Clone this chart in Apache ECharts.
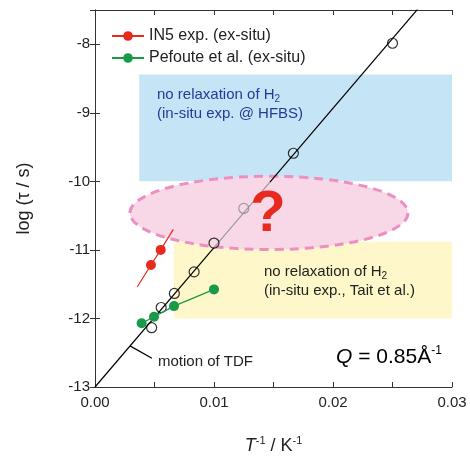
<!DOCTYPE html>
<html><head><meta charset="utf-8">
<script src="https://cdn.jsdelivr.net/npm/echarts@6/dist/echarts.min.js"></script>
<style>html,body{margin:0;padding:0;background:#fff}#c{width:470px;height:458px}</style>
</head><body><div id="c"></div>
<script>
// ---- tick labels ----
const xTicks = [0, 0.01, 0.02, 0.03];
const xTickLabels = ['0.00', '0.01', '0.02', '0.03'];
const yTicks = [-13, -12, -11, -10, -9, -8];
const yTickLabels = ['-13', '-12', '-11', '-10', '-9', '-8'];

// ---- TDF motion (open circles) ----
const tdfX = [0.025, 0.01667, 0.0100, 0.00833, 0.00667, 0.00556, 0.00476];
const tdfY = [-7.985, -9.59, -10.90, -11.32, -11.635, -11.84, -12.135];
const tdfGrayX = [0.0125];
const tdfGrayY = [-10.395];
// Arrhenius fit line pieces
const fitLowX = [0, 0.0100];
const fitLowY = [-13.0, -10.967];
const fitGrayX = [0.0100, 0.0147];
const fitGrayY = [-10.967, -10.01];
const fitHighX = [0.0147, 0.0271];
const fitHighY = [-10.01, -7.49];

// ---- IN5 exp. (ex-situ) ----
const in5X = [0.0047, 0.00552];
const in5Y = [-11.22, -11.0];
const in5FitX = [0.00356, 0.00658];
const in5FitY = [-11.538, -10.70];

// ---- Pefoute et al. (ex-situ) ----
const pefX = [0.00392, 0.00496, 0.00664, 0.0100];
const pefY = [-12.07, -11.975, -11.82, -11.576];

// ---- regions ----
const blueBoxX = [0.00372, 0.03];
const blueBoxY = [-10.0, -8.44];
const yellowBoxX = [0.00664, 0.03];
const yellowBoxY = [-12.0, -10.88];
const ellipseCenter = [0.01462, -10.46];
const ellipseRadius = [0.01168, 0.535];

const FONT = '"Liberation Sans", Arial, Helvetica, sans-serif';
const TXT = '#222';

function pts(xs, ys) { return xs.map((x, i) => [x, ys[i]]); }
function fmt(ticks, labels) {
  return v => { const i = ticks.findIndex(t => Math.abs(t - v) < 1e-9); return i >= 0 ? labels[i] : ''; };
}

const chart = echarts.init(document.getElementById('c'));

const axisCommon = {
  axisLine: { show: true, lineStyle: { color: '#333', width: 1 } },
  axisTick: { show: true, inside: true, length: 5, lineStyle: { color: '#333', width: 1 } },
  splitLine: { show: false }
};

const boxes = [
  { x: blueBoxX, y: blueBoxY, color: '#c5e5f6' },
  { x: yellowBoxX, y: yellowBoxY, color: '#fdf7c9' }
];

const in5Data = [
  { value: [in5FitX[0], in5FitY[0]], symbol: 'none' },
  ...pts(in5X, in5Y),
  { value: [in5FitX[1], in5FitY[1]], symbol: 'none' }
];

chart.setOption({
  animation: false,
  backgroundColor: '#fff',
  grid: { left: 95, right: 18, top: 10, bottom: 71, containLabel: false, outerBoundsMode: 'none' },
  xAxis: [
    Object.assign({
      type: 'value', position: 'bottom', min: 0, max: 0.03, interval: 0.005,
      axisLabel: { formatter: fmt(xTicks, xTickLabels), color: TXT, fontSize: 15, fontFamily: FONT, margin: 8, showMaxLabel: true },
      name: '{i|T}{sup|-1} / K{sup|-1}', nameLocation: 'middle', nameGap: 48,
      nameTextStyle: {
        color: TXT, fontSize: 18, fontFamily: FONT, lineHeight: 22,
        rich: {
          i: { fontStyle: 'italic', fontSize: 18, fontFamily: FONT, color: TXT, lineHeight: 22 },
          sup: { fontSize: 11, fontFamily: FONT, color: TXT, verticalAlign: 'top', lineHeight: 11 }
        }
      }
    }, axisCommon),
    Object.assign({
      type: 'value', position: 'top', min: 0, max: 0.03, interval: 0.005,
      axisLabel: { show: false }
    }, axisCommon)
  ],
  yAxis: [
    Object.assign({
      type: 'value', position: 'left', min: -13, max: -7.5, interval: 1,
      axisLabel: { formatter: fmt(yTicks, yTickLabels), color: TXT, fontSize: 15, fontFamily: FONT, margin: 5 },
      name: 'log (τ / s)', nameLocation: 'middle', nameGap: 62,
      nameTextStyle: { color: TXT, fontSize: 18, fontFamily: FONT }
    }, axisCommon),
    Object.assign({
      type: 'value', position: 'right', min: -13, max: -7.5, interval: 1,
      axisLabel: { show: false }
    }, axisCommon)
  ],
  legend: {
    orient: 'vertical', left: 106, top: 23, itemWidth: 32, itemHeight: 12, itemGap: 6,
    textStyle: { color: TXT, fontSize: 16, fontFamily: FONT },
    data: ['IN5 exp. (ex-situ)', 'Pefoute et al. (ex-situ)']
  },
  series: [
    {
      type: 'custom', name: 'regions', z: 1, silent: true,
      data: boxes.map((b, i) => [b.x[0], b.y[0], b.x[1], b.y[1], i]),
      renderItem: (params, api) => {
        const p0 = api.coord([api.value(0), api.value(1)]);
        const p1 = api.coord([api.value(2), api.value(3)]);
        return {
          type: 'rect',
          shape: { x: Math.min(p0[0], p1[0]), y: Math.min(p0[1], p1[1]), width: Math.abs(p1[0] - p0[0]), height: Math.abs(p1[1] - p0[1]) },
          style: { fill: boxes[api.value(4)].color }
        };
      }
    },
    {
      type: 'custom', name: 'ellipse', z: 2, silent: true,
      data: [[ellipseCenter[0], ellipseCenter[1], ellipseRadius[0], ellipseRadius[1]]],
      renderItem: (params, api) => {
        const c = api.coord([api.value(0), api.value(1)]);
        const s = api.size([api.value(2), api.value(3)]);
        return {
          type: 'ellipse',
          shape: { cx: c[0], cy: c[1], rx: s[0], ry: s[1] },
          style: { fill: '#f8d8e7', stroke: '#ec8fc3', lineWidth: 3, lineDash: [9, 6] }
        };
      }
    },
    { type: 'line', name: 'fitLow', z: 3, data: pts(fitLowX, fitLowY), showSymbol: false, symbol: 'none', lineStyle: { color: '#000', width: 1.2 }, silent: true },
    { type: 'line', name: 'fitGray', z: 3, data: pts(fitGrayX, fitGrayY), showSymbol: false, symbol: 'none', lineStyle: { color: '#9a9a9a', width: 1.2 }, silent: true },
    { type: 'line', name: 'fitHigh', z: 3, data: pts(fitHighX, fitHighY), showSymbol: false, symbol: 'none', lineStyle: { color: '#000', width: 1.2 }, silent: true },
    { type: 'line', name: 'leader', z: 3, data: [[0.00294, -12.40], [0.00478, -12.58]], symbol: 'none', lineStyle: { color: '#000', width: 1.2 }, silent: true },
    { type: 'scatter', name: 'TDF', z: 4, data: pts(tdfX, tdfY), symbol: 'circle', symbolSize: 10,
      itemStyle: { color: 'rgba(0,0,0,0)', borderColor: '#000', borderWidth: 1.2 } },
    { type: 'scatter', name: 'TDFgray', z: 4, data: pts(tdfGrayX, tdfGrayY), symbol: 'circle', symbolSize: 10,
      itemStyle: { color: 'rgba(0,0,0,0)', borderColor: '#8a8a8a', borderWidth: 1.2 } },
    { type: 'line', name: 'IN5 exp. (ex-situ)', z: 5, data: in5Data, symbol: 'circle', symbolSize: 10, showSymbol: true,
      itemStyle: { color: '#e8291e' }, lineStyle: { color: '#e8291e', width: 1.2 } },
    { type: 'line', name: 'Pefoute et al. (ex-situ)', z: 5, data: pts(pefX, pefY), symbol: 'circle', symbolSize: 10, showSymbol: true,
      itemStyle: { color: '#19994a' }, lineStyle: { color: '#19994a', width: 1.2 } }
  ],
  graphic: [
    { type: 'text', x: 157, y: 85, z: 10, silent: true,
      style: { text: 'no relaxation of H{sub|2}\n(in-situ exp. @ HFBS)', fill: '#27389a', font: '15px ' + FONT, lineHeight: 19,
        rich: { sub: { fontSize: 10, fontFamily: FONT, fill: '#27389a', verticalAlign: 'bottom', lineHeight: 9 } } } },
    { type: 'text', x: 264, y: 262, z: 10, silent: true,
      style: { text: 'no relaxation of H{sub|2}\n(in-situ exp., Tait et al.)', fill: TXT, font: '15px ' + FONT, lineHeight: 19,
        rich: { sub: { fontSize: 10, fontFamily: FONT, fill: TXT, verticalAlign: 'bottom', lineHeight: 9 } } } },
    { type: 'text', x: 158, y: 354, z: 10, silent: true,
      style: { text: 'motion of TDF', fill: TXT, font: '15px ' + FONT } },
    { type: 'text', x: 336, y: 345, z: 10, silent: true,
      style: { text: '{i|Q} = 0.85Å{sup|-1}', fill: '#000', font: '21px ' + FONT, lineHeight: 24,
        rich: { i: { fontStyle: 'italic', fontSize: 21, fontFamily: FONT, fill: '#000', lineHeight: 24 },
                sup: { fontSize: 12, fontFamily: FONT, fill: '#000', verticalAlign: 'top', lineHeight: 12 } } } },
    { type: 'text', x: 268, y: 215, z: 10, silent: true,
      style: { text: '?', fill: '#e8291e', font: 'bold 58px ' + FONT, textAlign: 'center', textVerticalAlign: 'middle' } }
  ]
});
</script></body></html>
